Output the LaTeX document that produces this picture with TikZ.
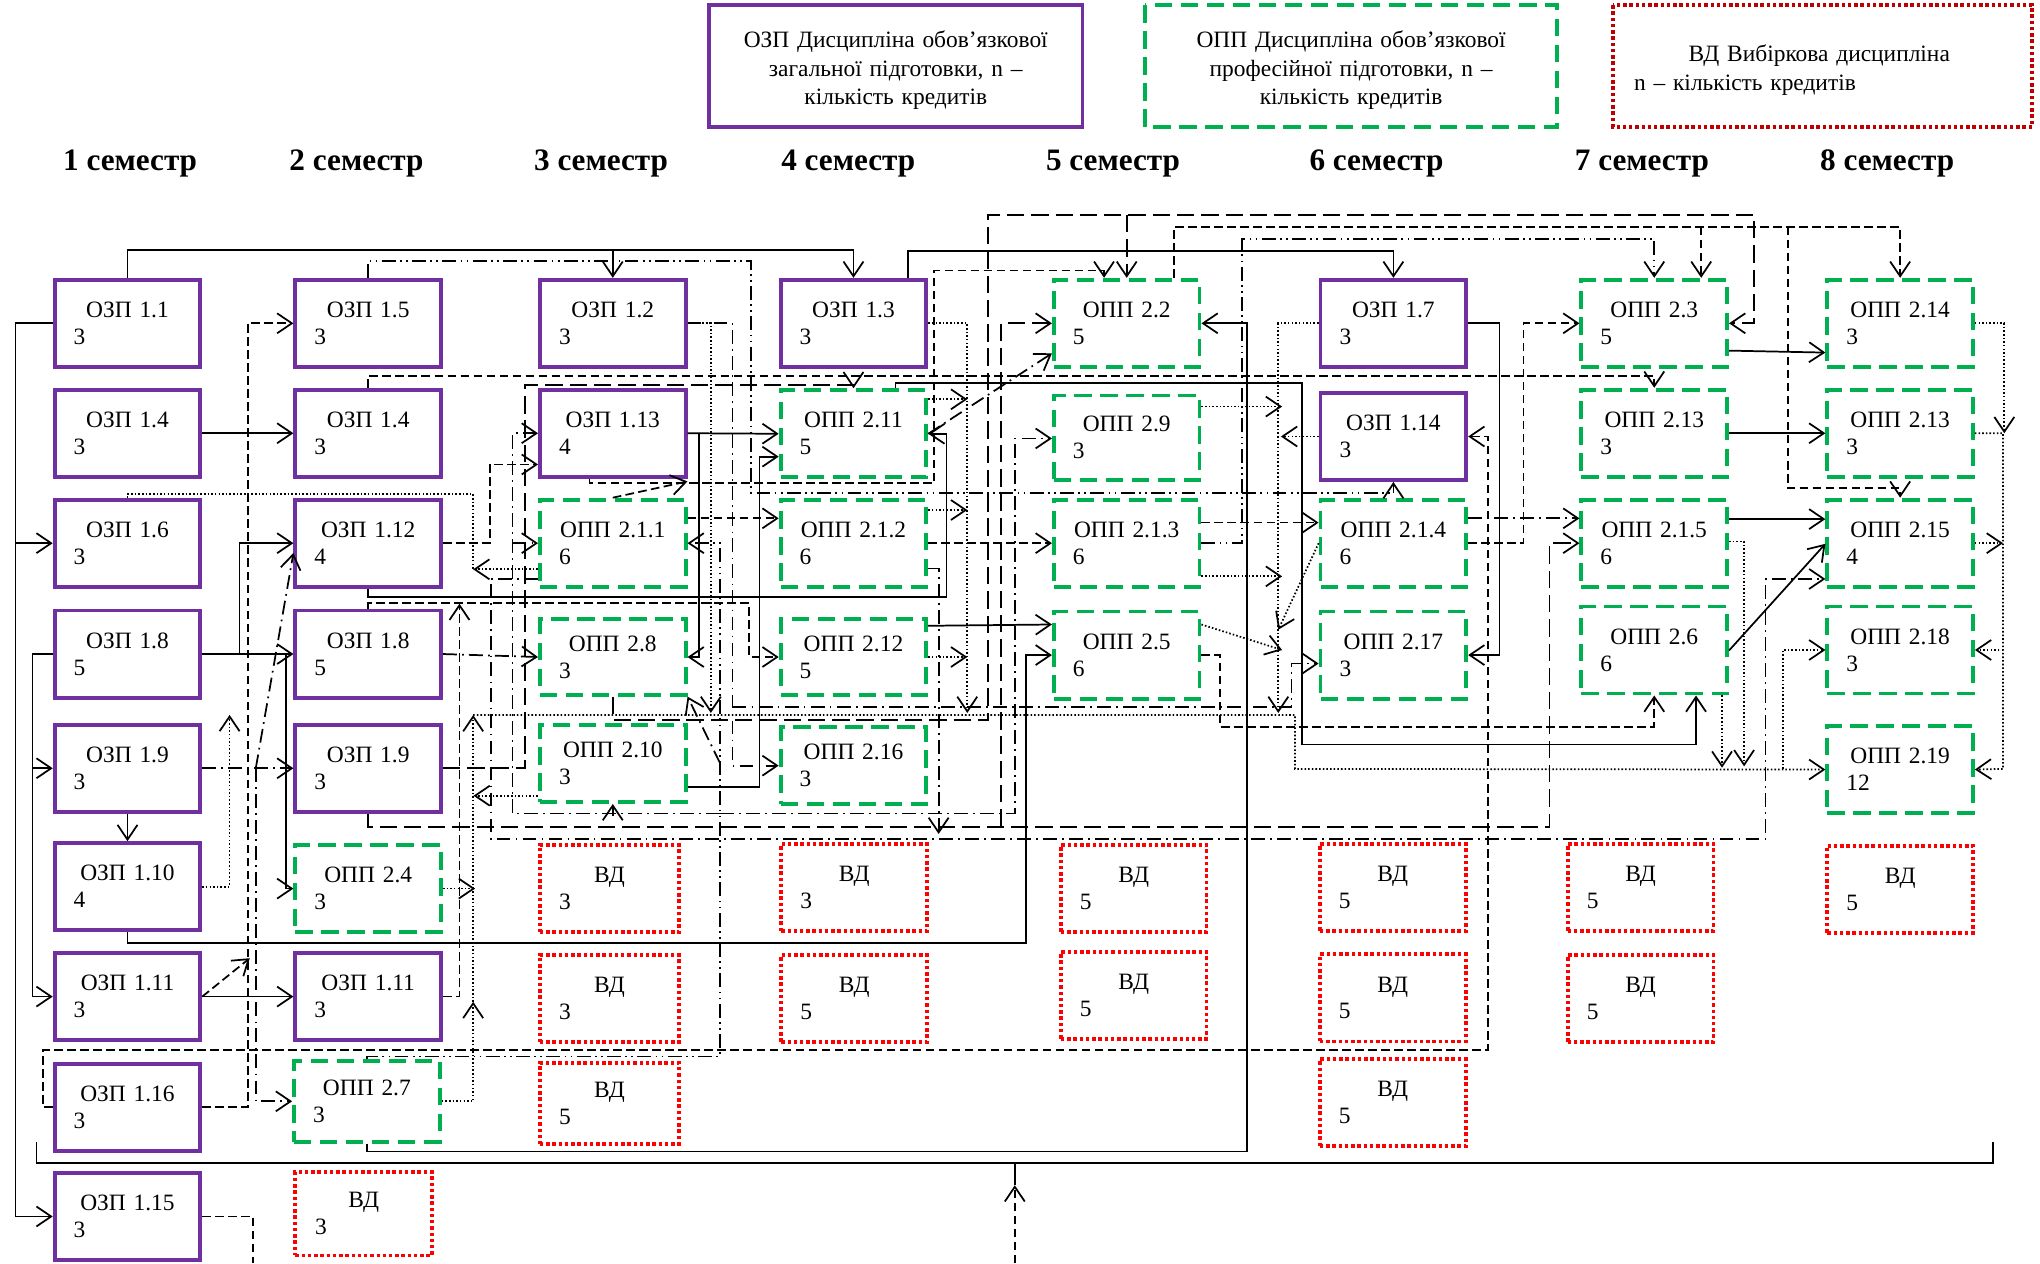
\documentclass[tikz,border=0pt]{standalone}
\usepackage{fontspec}
\setmainfont{Liberation Serif}
\usetikzlibrary{arrows.meta}

\definecolor{ozpviolet}{RGB}{112,48,160}
\definecolor{oppgreen}{RGB}{0,176,80}
\definecolor{vdred}{RGB}{255,0,0}
\definecolor{legred}{RGB}{192,0,0}

\tikzset{
  box/.style={rectangle,minimum width=84pt,minimum height=50.25pt,inner xsep=11pt,inner ysep=0pt,text width=62pt,font=\fontsize{13.5}{15.5}\selectfont},
  ozp/.style={box,draw=ozpviolet,line width=2.2pt},
  opp/.style={box,draw=oppgreen,line width=2.2pt,dash pattern=on 10pt off 5pt},
  vd/.style={box,draw=vdred,line width=2.2pt,dash pattern=on 2pt off 1.6pt},
  leg/.style={minimum height=70pt,inner sep=0pt,line width=2.2pt,font=\fontsize{13.5}{16.5}\selectfont},
  sem/.style={anchor=base,font=\fontsize{18}{21}\selectfont\bfseries},
  conn/.style={line width=1pt},
  arr/.style={-{Straight Barb[length=8.5pt,width=11.5pt]}},
  sdash/.style={dash pattern=on 5pt off 2.5pt},
  ldash/.style={dash pattern=on 10pt off 4pt},
  ddot/.style={dash pattern=on 8pt off 3pt on 1pt off 3pt},
  dddot/.style={dash pattern=on 8pt off 2.5pt on 1pt off 2.5pt on 1pt off 2.5pt},
  fdot/.style={dash pattern=on 0.9pt off 1.2pt},
}

\begin{document}
\begin{tikzpicture}[x=0.75pt,y=0.75pt,yscale=-1,xscale=1]
\useasboundingbox (0,0) rectangle (1568,971);

% Legend
\draw[ozpviolet,line width=2.2pt] (545,4) rectangle (832,97.5);
\node[leg,minimum width=215.25pt,text width=205pt,align=center] (legozp) at (688.5,54) {ОЗП Дисципліна обов’язкової\\загальної підготовки, n –\\кількість кредитів};
\draw[oppgreen,line width=2.2pt,dash pattern=on 10pt off 5pt] (880,4) rectangle (1197,97.5);
\node[leg,minimum width=237.75pt,text width=225pt,align=center] (legopp) at (1038.5,54) {ОПП Дисципліна обов’язкової\\професійної підготовки, n –\\кількість кредитів};
\draw[legred,line width=2.2pt,dash pattern=on 2pt off 1.6pt] (1240,4) rectangle (1562,97.5);
\node[leg,minimum width=241.5pt,inner xsep=12pt,text width=217.5pt,align=left] (legvd) at (1401,54) {\hspace*{31.5pt}ВД Вибіркова дисципліна\\n – кількість кредитів};

% Text Node
\node[sem] (sem1) at (100,131) {1 семестр};
\node[sem] (sem2) at (274,131) {2 семестр};
\node[sem] (sem3) at (462,131) {3 семестр};
\node[sem] (sem4) at (652,131) {4 семестр};
\node[sem] (sem5) at (855.5,131) {5 семестр};
\node[sem] (sem6) at (1058,131) {6 семестр};
\node[sem] (sem7) at (1262,131) {7 семестр};
\node[sem] (sem8) at (1450.5,131) {8 семестр};

% 1 семестр
\node[ozp] (ozp1-1) at (98,248.5) {{\centering ОЗП 1.1\par}3};
\node[ozp] (ozp1-4a) at (98,333) {{\centering ОЗП 1.4\par}3};
\node[ozp] (ozp1-6) at (98,417.5) {{\centering ОЗП 1.6\par}3};
\node[ozp] (ozp1-8a) at (98,502.7) {{\centering ОЗП 1.8\par}5};
\node[ozp] (ozp1-9a) at (98,590.5) {{\centering ОЗП 1.9\par}3};
\node[ozp] (ozp1-10) at (98,681.5) {{\centering ОЗП 1.10\par}4};
\node[ozp] (ozp1-11a) at (98,766) {{\centering ОЗП 1.11\par}3};
\node[ozp] (ozp1-16) at (98,851) {{\centering ОЗП 1.16\par}3};
\node[ozp] (ozp1-15) at (98,935) {{\centering ОЗП 1.15\par}3};
% 2 семестр
\node[ozp] (ozp1-5) at (283,248.5) {{\centering ОЗП 1.5\par}3};
\node[ozp] (ozp1-4b) at (283,333) {{\centering ОЗП 1.4\par}3};
\node[ozp] (ozp1-12) at (283,417.5) {{\centering ОЗП 1.12\par}4};
\node[ozp] (ozp1-8b) at (283,502.7) {{\centering ОЗП 1.8\par}5};
\node[ozp] (ozp1-9b) at (283,590.5) {{\centering ОЗП 1.9\par}3};
\node[opp] (opp2-4) at (283,683) {{\centering ОПП 2.4\par}3};
\node[ozp] (ozp1-11b) at (283,766) {{\centering ОЗП 1.11\par}3};
\node[opp,minimum height=46.5pt] (opp2-7) at (282,846.5) {{\centering ОПП 2.7\par}3};
\node[vd,minimum height=48pt,minimum width=78.75pt,text width=56pt] (vd2-1) at (279.5,933) {{\centering ВД\par}3};
% 3 семестр
\node[ozp] (ozp1-2) at (471,248.5) {{\centering ОЗП 1.2\par}3};
\node[ozp] (ozp1-13) at (471,333) {{\centering ОЗП 1.13\par}4};
\node[opp] (opp2-1-1) at (471,417.5) {{\centering ОПП 2.1.1\par}6};
\node[opp,minimum height=43.5pt] (opp2-8) at (471,505) {{\centering ОПП 2.8\par}3};
\node[opp,minimum height=44.25pt] (opp2-10) at (471,587) {{\centering ОПП 2.10\par}3};
\node[vd,minimum width=80.25pt,text width=58pt] (vd3-1) at (468.5,683) {{\centering ВД\par}3};
\node[vd,minimum width=80.25pt,text width=58pt] (vd3-2) at (468.5,767.5) {{\centering ВД\par}3};
\node[vd,minimum width=80.25pt,text width=58pt,minimum height=46.5pt] (vd3-3) at (468.5,848) {{\centering ВД\par}5};
% 4 семестр
\node[ozp] (ozp1-3) at (656,248.5) {{\centering ОЗП 1.3\par}3};
\node[opp] (opp2-11) at (656,333.4) {{\centering ОПП 2.11\par}5};
\node[opp] (opp2-1-2) at (656,417.5) {{\centering ОПП 2.1.2\par}6};
\node[opp,minimum height=43.5pt] (opp2-12) at (656,505) {{\centering ОПП 2.12\par}5};
\node[opp,minimum height=44.25pt] (opp2-16) at (656,588.5) {{\centering ОПП 2.16\par}3};
\node[vd] (vd4-1) at (656.5,682.3) {{\centering ВД\par}3};
\node[vd] (vd4-2) at (656.5,767.5) {{\centering ВД\par}5};
% 5 семестр
\node[opp] (opp2-2) at (866,248.5) {{\centering ОПП 2.2\par}5};
\node[opp,minimum height=48.75pt] (opp2-9) at (866,336.5) {{\centering ОПП 2.9\par}3};
\node[opp] (opp2-1-3) at (866,417.5) {{\centering ОПП 2.1.3\par}6};
\node[opp] (opp2-5) at (866,503.5) {{\centering ОПП 2.5\par}6};
\node[vd] (vd5-1) at (871.4,682.8) {{\centering ВД\par}5};
\node[vd] (vd5-2) at (871.4,765) {{\centering ВД\par}5};
% 6 семестр
\node[ozp] (ozp1-7) at (1071,248.5) {{\centering ОЗП 1.7\par}3};
\node[ozp] (ozp1-14) at (1071,335.5) {{\centering ОЗП 1.14\par}3};
\node[opp] (opp2-1-4) at (1071,417.5) {{\centering ОПП 2.1.4\par}6};
\node[opp] (opp2-17) at (1071,503.5) {{\centering ОПП 2.17\par}3};
\node[vd] (vd6-1) at (1070.5,682) {{\centering ВД\par}5};
\node[vd] (vd6-2) at (1070.5,767) {{\centering ВД\par}5};
\node[vd] (vd6-3) at (1070.5,847.5) {{\centering ВД\par}5};
% 7 семестр
\node[opp] (opp2-3) at (1271.5,248.5) {{\centering ОПП 2.3\par}5};
\node[opp] (opp2-13a) at (1271.5,333) {{\centering ОПП 2.13\par}3};
\node[opp] (opp2-1-5) at (1271.5,417.5) {{\centering ОПП 2.1.5\par}6};
\node[opp] (opp2-6) at (1271.5,499.6) {{\centering ОПП 2.6\par}6};
\node[vd] (vd7-1) at (1261,682) {{\centering ВД\par}5};
\node[vd] (vd7-2) at (1261,767.5) {{\centering ВД\par}5};
% 8 семестр
\node[opp] (opp2-14) at (1460.5,248.5) {{\centering ОПП 2.14\par}3};
\node[opp] (opp2-13b) at (1460.5,333) {{\centering ОПП 2.13\par}3};
\node[opp] (opp2-15) at (1460.5,417.5) {{\centering ОПП 2.15\par}4};
\node[opp] (opp2-18) at (1460.5,499.6) {{\centering ОПП 2.18\par}3};
\node[opp] (opp2-19) at (1460.5,591.5) {{\centering ОПП 2.19\par}12};
\node[vd] (vd8-1) at (1460.5,683.5) {{\centering ВД\par}5};

% junctions and free ends
\coordinate (brl) at (28,877.5);
\coordinate (brr) at (1531.6,878);
\coordinate (bin) at (780,971);
\coordinate (btip) at (780,911);
\coordinate (bmid) at (780,894);
\coordinate (out15) at (194.6,971);
\coordinate (j9) at (196.6,590.5);
\coordinate (jl1) at (769.6,635.4);
\coordinate (jl3) at (866,165.2);
\coordinate (jd10a) at (1307.6,174.2);
\coordinate (jd10b) at (1374.3,174.2);
\coordinate (jdd3) at (563.1,543.2);
\coordinate (jdd4) at (553.5,586.7);
\coordinate (jdd5) at (553.5,625.2);
\coordinate (jdd5b) at (393.9,417.5);
\coordinate (jdd5c) at (471,627);
\coordinate (jf1) at (363.7,437.6);
\coordinate (jf2) at (363.7,770);
\coordinate (jf3) at (363.7,549.6);
\coordinate (jf4) at (1370.3,591);
\coordinate (jf5) at (1539.6,499.6);

%Straight Lines: solid
\draw[conn,arr] (ozp1-1.north) |- (656,192) -- (ozp1-3.north);
\draw[conn,arr] (ozp1-2.north |- 0,192) -- (ozp1-2.north);
\draw[conn,arr] (ozp1-3.north -| 698,0) |- (1071,193) -- (ozp1-7.north);
\draw[conn,arr] (ozp1-1.west) -| (12,935) -- (ozp1-15.west);
\draw[conn,arr] (ozp1-6.west -| 12,0) -- (ozp1-6.west);
\draw[conn,arr] (ozp1-4a.east) -- (ozp1-4b.west);
\draw[conn,arr] (ozp1-8a.east) -- (ozp1-8b.west);
\draw[conn,arr] (ozp1-8a.east -| 184,0) |- (ozp1-12.west);
\draw[conn,arr] (ozp1-8a.east -| 219.6,0) |- (opp2-4.west);
\draw[conn,arr] (ozp1-8a.west) -| (25,766) -- (ozp1-11a.west);
\draw[conn,arr] (ozp1-9a.west -| 25,0) -- (ozp1-9a.west);
\draw[conn,arr] (ozp1-9a.south) -- (ozp1-10.north);
\draw[conn,arr] (ozp1-10.south) |- (788.6,725) |- (opp2-5.west);
\draw[conn,arr] (ozp1-11a.east) -- (ozp1-11b.west);
\draw[conn,arr] (opp2-7.south) |- (958.5,885) |- (opp2-2.east);
\draw[conn,arr] (ozp1-13.east) -- (opp2-11.west);
\draw[conn,arr] (ozp1-13.east -| 537,0) |- (opp2-8.east);
\draw[conn,arr] (opp2-10.east |- 0,604.7) -| (583.7,351) -- (opp2-11.west |- 0,351);
\draw[conn,arr] (ozp1-12.south) |- (727.4,459) |- (opp2-11.east);
\draw[conn,arr] (opp2-11.north -| 688.3,0) |- (1000.5,294.6) |- (1303.6,572.2) -- (opp2-6.south -| 1303.6,0);
\draw[conn,arr] (ozp1-7.east) -| (1152.6,503.5) -- (opp2-17.east);
\draw[conn,arr] (opp2-3.east |- 0,269.5) -- (opp2-14.west |- 0,271);
\draw[conn,arr] (opp2-13a.east) -- (opp2-13b.west);
\draw[conn,arr] (opp2-1-5.east |- 0,399) -- (opp2-15.west |- 0,399);
\draw[conn,arr] (opp2-6.east |- 0,500) -- (opp2-15.west |- 0,418);
\draw[conn,arr] (opp2-12.east |- 0,481) -- (opp2-5.west |- 0,480);
\draw[conn] (brl) |- (brr |- 0,894) -- (brr);
\draw[conn,sdash,arr] (bin) -- (btip);
\draw[conn] (btip) -- (bmid);

%Straight Lines: short dashes
\draw[conn,sdash,arr] (ozp1-12.east) -| (376.4,357) -- (ozp1-13.west |- 0,357);
\draw[conn,sdash,arr] (ozp1-4b.north) |- (1271.5,289) -- (opp2-13a.north);
\draw[conn,sdash,arr] (ozp1-16.east) -| (190.4,248.5) -- (ozp1-5.west);
\draw[conn,sdash] (ozp1-15.east) -| (out15);
\draw[conn,sdash,arr] (ozp1-13.south -| 453,0) |- (718,371.5) |- (848.6,208) -- (opp2-2.north -| 848.6,0);
\draw[conn,sdash,arr] (opp2-1-1.north) -- ++(57.4,-12.5);
\draw[conn,sdash,arr] (ozp1-8b.north) |- (575.8,463.7) |- (opp2-12.west);
\draw[conn,sdash,arr] (opp2-2.north -| 902.4,0) |- (1460.5,174.2) -- (opp2-14.north);
\draw[conn,sdash,arr] (jd10a) -- (opp2-3.north -| 1307.6,0);
\draw[conn,sdash,arr] (jd10b) |- (1460.5,375.3) -- (opp2-15.north);
\draw[conn,sdash,arr] (opp2-5.east) -| (937.7,558.6) -| (opp2-6.south);
\draw[conn,sdash,arr] (opp2-1-2.east) -- (opp2-1-3.west);
\draw[conn,sdash,arr] (opp2-1-1.east |- 0,398.4) -- (opp2-1-2.west |- 0,398.4);
\draw[conn,sdash,arr] (opp2-1-3.east |- 0,401.7) -- (opp2-1-4.west |- 0,401.7);
\draw[conn,sdash,arr] (opp2-1-4.east) -| (1171,248.5) -- (opp2-3.west);
\draw[conn,sdash,arr] (ozp1-16.west) -| (33,807) -| (1143.6,335.5) -- (ozp1-14.east);
\draw[conn,sdash,arr] (ozp1-11a.east) -- ++(36.5,-29.5);
\draw[conn,sdash,arr] (ozp1-11b.east) -| ++(12.7,-302);

%Straight Lines: long dashes
\draw[conn,ldash,arr] (ozp1-9b.south) |- (1191,635.4) |- (opp2-1-5.west);
\draw[conn,ldash,arr] (jl1) |- (opp2-2.west);
\draw[conn,ldash,arr] (ozp1-9b.east) -| (403.8,295.9) -| (opp2-11.north);
\draw[conn,ldash,arr] (opp2-8.south) |- (759.3,553.5) |- (1348,165.2) |- (opp2-3.east);
\draw[conn,ldash,arr] (jl3) -- (opp2-2.north);

%Straight Lines: dash dot
\draw[conn,dddot,arr] (ozp1-5.north) |- (577.5,200.6) |- (1071,379.2) -- (ozp1-14.south);
\draw[conn,ddot,arr] (ozp1-9a.east) -- (ozp1-9b.west);
\draw[conn,ddot,arr] (j9) -- (ozp1-12.west |- 0,425);
\draw[conn,ddot,arr] (j9) |- (opp2-7.west);
\draw[conn,ddot,arr] (ozp1-2.east) -| (563.1,588.5) -- (opp2-16.west);
\draw[conn,ddot,arr] (jdd3) -| (992.6,510) -- (opp2-17.west |- 0,510);
\draw[conn,dddot,arr] (opp2-7.north) |- (553.5,812) |- (opp2-1-1.east);
\draw[conn,ddot,arr] (jdd4) -- (opp2-8.south east);
\draw[conn,ddot,arr] (jdd5) -| (393.9,333) -- (ozp1-13.west);
\draw[conn,ddot,arr] (jdd5b) -- (opp2-1-1.west);
\draw[conn,ddot,arr] (jdd5) -| (780,337) -- (opp2-9.west |- 0,337);
\draw[conn,ddot,arr] (jdd5c) -- (opp2-10.south);
\draw[conn,ddot,arr] (opp2-1-1.west |- 0,445.3) -| (377.4,644.9) -| (1357,445) -- (opp2-15.west |- 0,445);
\draw[conn,ddot,arr] (opp2-1-2.east |- 0,437) -| ++(8,204);
\draw[conn,dddot,arr] (opp2-1-3.east) -| (954.9,183.9) -| (opp2-3.north);
\draw[conn,ddot,arr] (opp2-1-4.east |- 0,398.4) -- (opp2-1-5.west |- 0,398.4);
\draw[conn,ddot,arr] (opp2-11.east) -- (opp2-2.west |- 0,271.6);
\draw[conn,ddot,arr] (ozp1-8b.east) -- (opp2-8.west);

%Straight Lines: dotted
\draw[conn,fdot] (ozp1-6.north) |- (363.7,379.7) -- (jf1);
\draw[conn,fdot,arr] (opp2-1-1.west |- 0,437.6) -- (jf1);
\draw[conn,fdot,arr] (opp2-7.east) -| (jf2);
\draw[conn,fdot,arr] (jf2) -- (jf3);
\draw[conn,fdot,arr] (opp2-4.east) -- ++(24.7,0);
\draw[conn,fdot,arr] (opp2-10.west |- 0,611.6) -- ++(-49.6,0);
\draw[conn,fdot,arr] (jf3) -| (995.4,591) -- (opp2-19.west);
\draw[conn,fdot,arr] (jf4) |- (opp2-18.west);
\draw[conn,fdot,arr] (ozp1-2.east) -| ++(17.9,299.5);
\draw[conn,fdot,arr] (ozp1-3.east) -| ++(30,299.5);
\draw[conn,fdot,arr] (opp2-11.east |- 0,306.9) -- ++(30,0);
\draw[conn,fdot,arr] (opp2-1-2.east |- 0,392) -- ++(30,0);
\draw[conn,fdot,arr] (opp2-12.east |- 0,505) -- ++(30,0);
\draw[conn,fdot,arr] (ozp1-7.west) -| ++(-31,299.5);
\draw[conn,fdot,arr] (opp2-9.east |- 0,312.5) -- ++(62,0);
\draw[conn,fdot,arr] (ozp1-14.west) -- ++(-29,0);
\draw[conn,fdot,arr] (opp2-1-3.east |- 0,443) -- ++(62,0);
\draw[conn,fdot,arr] (opp2-1-4.west) -- ++(-31,66.5);
\draw[conn,fdot,arr] (opp2-5.east |- 0,480) -- ++(62,19.6);
\draw[conn,fdot,arr] (ozp1-10.east) -| ++(21,-132);
\draw[conn,fdot,arr] (opp2-14.east) -| ++(22.6,84.5);
\draw[conn,fdot,arr] (opp2-13b.east) -| (1539.6,591) -- (opp2-19.east);
\draw[conn,fdot,arr] (jf5) -- (opp2-18.east);
\draw[conn,fdot,arr] (opp2-15.east) -- ++(21.6,0);
\draw[conn,fdot,arr] (opp2-6.south -| 1323.6,0) -- ++(0,55.5);
\draw[conn,fdot,arr] (opp2-1-5.east |- 0,416.3) -| ++(11.6,172.7);
\end{tikzpicture}
\end{document}
